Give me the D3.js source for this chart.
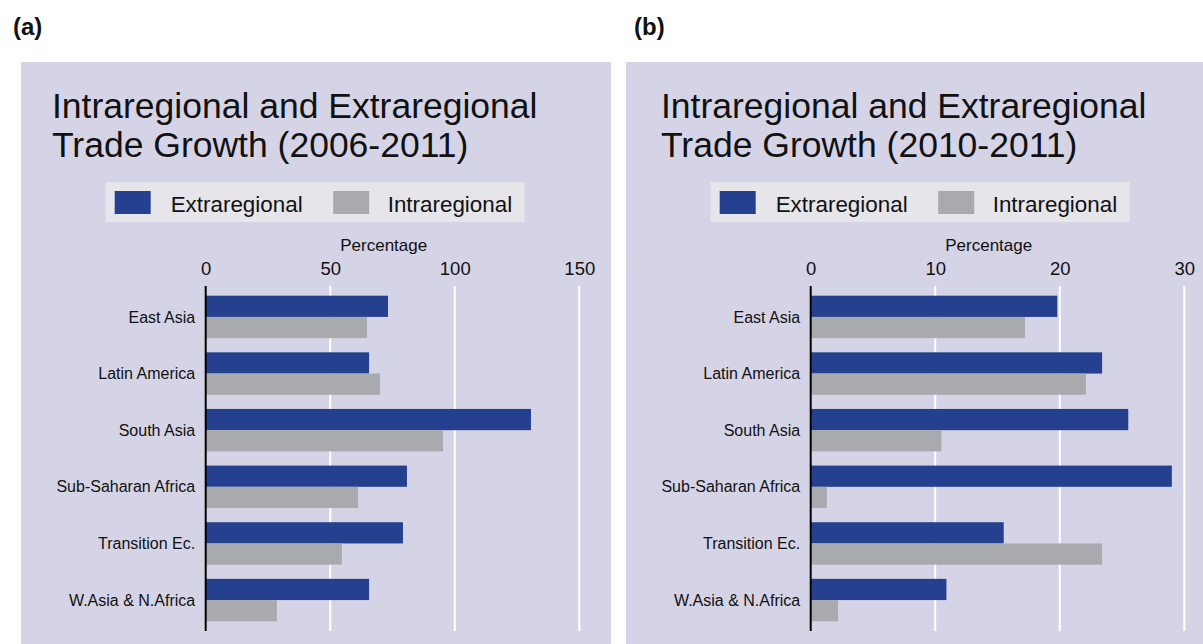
<!DOCTYPE html>
<html>
<head>
<meta charset="utf-8">
<script src="https://cdn.jsdelivr.net/npm/d3@7"></script>
<style>
  html, body { margin: 0; padding: 0; background: #ffffff; }
  svg { display: block; font-family: "Liberation Sans", Arial, Helvetica, sans-serif; }
</style>
</head>
<body>
<svg id="chart" width="1203" height="644"></svg>
<script>
// Regions shown on both panels
const categories = ["East Asia", "Latin America", "South Asia", "Sub-Saharan Africa", "Transition Ec.", "W.Asia & N.Africa"];
const seriesNames = ["Extraregional", "Intraregional"];

// Trade growth, percent, 2006-2011
const extra2006 = [73.2, 65.6, 130.6, 80.8, 79.2, 65.6];
const intra2006 = [64.8, 70.0, 95.3, 61.2, 54.7, 28.6];

// Trade growth, percent, 2010-2011
const extra2010 = [19.8, 23.4, 25.5, 29.0, 15.5, 10.9];
const intra2010 = [17.2, 22.1, 10.5, 1.3, 23.4, 2.2];

// Axis ticks for each panel
const ticks2006 = [0, 50, 100, 150];
const ticks2010 = [0, 10, 20, 30];

const panelTags = ["(a)", "(b)"];
const titleLine1 = "Intraregional and Extraregional";
const titleLines2 = ["Trade Growth (2006-2011)", "Trade Growth (2010-2011)"];
const axisTitle = "Percentage";

const COLORS = { Extraregional: "#24408f", Intraregional: "#a9aaad" };
const PANEL_BG = "#d5d4e7";
const LEGEND_BG = "#e5e5ea";

const svg = d3.select("#chart");

function drawPanel(offsetX, tagX, titleX, tag, title2, extra, intra, ticks) {
  const g = svg.append("g").attr("transform", `translate(${offsetX},0)`);

  // panel tag
  g.append("text")
    .attr("x", tagX).attr("y", 35)
    .attr("font-size", 24).attr("font-weight", "bold").attr("fill", "#111")
    .text(tag);

  // panel background
  g.append("rect")
    .attr("x", 21).attr("y", 62)
    .attr("width", 590).attr("height", 600)
    .attr("fill", PANEL_BG);

  // title
  const t = g.append("text").attr("font-size", 35.5).attr("fill", "#111");
  t.append("tspan").attr("x", titleX).attr("y", 118).text(titleLine1);
  t.append("tspan").attr("x", titleX).attr("y", 157).text(title2);

  // scales
  const x0 = 205.7;
  const x = d3.scaleLinear()
    .domain([0, ticks[ticks.length - 1]])
    .range([x0, x0 + 373.6]);

  const y = d3.scaleBand()
    .domain(categories)
    .range([286, 631])
    .paddingInner(0.25)
    .paddingOuter(0.171);

  const ySub = d3.scaleBand()
    .domain(seriesNames)
    .range([0, y.bandwidth()]);

  // legend
  const lg = g.append("g");
  lg.append("rect")
    .attr("x", x0 - 100).attr("y", 182)
    .attr("width", 419).attr("height", 40)
    .attr("fill", LEGEND_BG);
  const legendItems = [
    { name: "Extraregional", sx: x0 - 91, tx: x0 - 35 },
    { name: "Intraregional", sx: x0 + 127.5, tx: x0 + 182 }
  ];
  legendItems.forEach(d => {
    lg.append("rect")
      .attr("x", d.sx).attr("y", 191)
      .attr("width", 36).attr("height", 23)
      .attr("fill", COLORS[d.name]);
    lg.append("text")
      .attr("x", d.tx).attr("y", 212)
      .attr("font-size", 22.4).attr("fill", "#111")
      .text(d.name);
  });

  // axis title
  g.append("text")
    .attr("x", x0 + 178).attr("y", 251)
    .attr("text-anchor", "middle")
    .attr("font-size", 17).attr("fill", "#111")
    .text(axisTitle);

  // vertical grid lines
  g.append("g")
    .selectAll("line")
    .data(ticks.filter(v => v !== 0))
    .join("line")
    .attr("x1", d => x(d)).attr("x2", d => x(d))
    .attr("y1", 286).attr("y2", 631)
    .attr("stroke", "#ffffff").attr("stroke-width", 2);

  // top axis labels
  const axis = g.append("g")
    .attr("transform", "translate(0,286)")
    .call(d3.axisTop(x).tickValues(ticks).tickSize(0).tickPadding(11).tickFormat(d3.format("d")));
  axis.select(".domain").remove();
  axis.selectAll("text")
    .attr("font-size", 18.5).attr("fill", "#111")
    .attr("font-family", "'Liberation Sans', Arial, sans-serif");

  // bars
  const rows = categories.map((c, i) => ({
    cat: c,
    values: [
      { key: "Extraregional", v: extra[i] },
      { key: "Intraregional", v: intra[i] }
    ]
  }));

  const groups = g.append("g")
    .selectAll("g")
    .data(rows)
    .join("g")
    .attr("transform", d => `translate(0,${y(d.cat)})`);

  groups.selectAll("rect")
    .data(d => d.values)
    .join("rect")
    .attr("x", x(0))
    .attr("y", d => ySub(d.key))
    .attr("width", d => x(d.v) - x(0))
    .attr("height", ySub.bandwidth())
    .attr("fill", d => COLORS[d.key]);

  // category labels
  g.append("g")
    .selectAll("text")
    .data(categories)
    .join("text")
    .attr("x", x0 - 10.5)
    .attr("y", d => y(d) + y.bandwidth() / 2)
    .attr("dy", "0.35em")
    .attr("text-anchor", "end")
    .attr("font-size", 16).attr("fill", "#111")
    .text(d => d);

  // zero line
  g.append("line")
    .attr("x1", x(0)).attr("x2", x(0))
    .attr("y1", 286).attr("y2", 631)
    .attr("stroke", "#000").attr("stroke-width", 2);
}

drawPanel(0, 13, 52, panelTags[0], titleLines2[0], extra2006, intra2006, ticks2006);
drawPanel(605, 29, 56, panelTags[1], titleLines2[1], extra2010, intra2010, ticks2010);
</script>
</body>
</html>
